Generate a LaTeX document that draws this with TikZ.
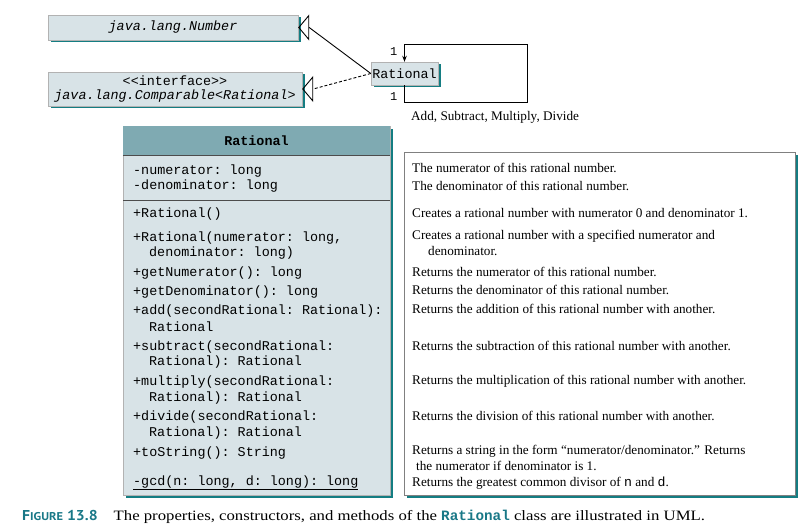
\documentclass[tikz,border=0pt]{standalone}
\usepackage{fontspec}
\setmainfont{Liberation Serif}
\setmonofont{Liberation Mono}
\newfontfamily\capfont[FakeStretch=1.1]{PT Sans}
\newfontfamily\capserif[FakeStretch=1.17]{Liberation Serif}
\usetikzlibrary{arrows.meta,positioning,shadows}
\definecolor{umlhead}{RGB}{127,170,178}
\definecolor{umlbody}{RGB}{216,227,231}
\definecolor{umlshade}{RGB}{20,125,130}
\definecolor{captl}{RGB}{25,120,135}
\newcommand{\mono}{\ttfamily\fontsize{13.4}{15.5}\selectfont}
\newcommand{\serif}{\rmfamily\fontsize{13.2}{15}\selectfont}
\tikzset{
  shadowed/.style={drop shadow={fill=umlshade, opacity=1, shadow xshift=2.5pt, shadow yshift=-2.5pt}},
  umlbox/.style={shadowed, draw=gray!60, line width=0.4pt, fill=umlbody, inner sep=0pt, font=\mono},
  member/.style={anchor=west, inner sep=0pt, font=\mono},
  desc/.style={anchor=west, inner sep=0pt, font=\serif},
  gen/.style={line width=0.9pt, -{Triangle[open, length=11pt, width=26pt]}},
}
\begin{document}
\begin{tikzpicture}[x=1pt, y=-1pt]
        \useasboundingbox (0,0) rectangle (805,532);
        % super class and interface
        \node[umlbox, minimum width=250, minimum height=25] (num) at (173,27.5) {\itshape java.lang.Number};
        \node[umlbox, minimum width=254, minimum height=34, align=center] (cmp) at (175,89) {<<interface>>\\[-2pt]\itshape java.lang.Comparable<Rational>};
        \node[umlbox, minimum width=67, minimum height=23] (rat) at (404.5,73.5) {Rational};
        \draw[gen] (rat.west) -- ([xshift=11pt]num.east) -- (num.east);
        \draw[gen, dash pattern=on 3pt off 2pt] (rat.west) -- ([xshift=11pt]cmp.east) -- (cmp.east);
        % association loop
        \coordinate (lpA) at (527,44);
        \coordinate (lpB) at (527,102);
        \draw[line width=0.9pt, -{Stealth[length=6pt, width=4.5pt]}] (rat.south) |- (lpB) -- (lpA) -| (rat.north);
        \node[member, font=\mono\fontsize{12}{14}\selectfont] (oneT) at (390,52) {1};
        \node[member, font=\mono\fontsize{12}{14}\selectfont] (oneB) at (390,97) {1};
        \node[desc, anchor=west] (ops) at (411,117.5) {Add, Subtract, Multiply, Divide};
        % the class box
        \node[umlbox, minimum width=267, minimum height=369] (cls) at (256.5,310.5) {};
        \fill[umlhead] ([shift={(0.2pt,-0.2pt)}]cls.north west) rectangle ([shift={(-0.2pt,-29pt)}]cls.north east);
        \draw[line width=0.5pt, black!70] ([yshift=-29pt]cls.north west) -- ([yshift=-29pt]cls.north east);
        \node[font=\mono\bfseries] (title) at (256.5,141) {Rational};
        \draw[line width=0.5pt, black!70] (123,200) -- (390,200);
        \foreach \x/\y/\t [count=\i] in {
          133/171/{-numerator: long},
          133/186/{-denominator: long},
          133/214/{+Rational()},
          133/238/{+Rational(numerator: long,},
          149/253/{denominator: long)},
          133/273/{+getNumerator(): long},
          133/292/{+getDenominator(): long},
          133/311/{+add(secondRational: Rational):},
          149/327/{Rational},
          133/347/{+subtract(secondRational:},
          149/362/{Rational): Rational},
          133/382/{+multiply(secondRational:},
          149/398/{Rational): Rational},
          133/417/{+divide(secondRational:},
          149/433/{Rational): Rational},
          133/453/{+toString(): String},
          133/483/{\underline{-gcd(n: long, d: long): long}}}{
        \node[member] (m\i) at (\x,\y) {\t};
        }
        % the notes
        \node[umlbox, fill=white, draw=gray, minimum width=391, minimum height=343] (dsc) at (599.5,323.5) {};
        \foreach \x/\y/\t [count=\i] in {
          412/168/{The numerator of this rational number.},
          412/186/{The denominator of this rational number.},
          412/213/{Creates a rational number with numerator 0 and denominator 1.},
          412/236/{Creates a rational number with a specified numerator and},
          428/251/{denominator.},
          412/272/{Returns the numerator of this rational number.},
          412/290/{Returns the denominator of this rational number.},
          412/309/{Returns the addition of this rational number with another.},
          412/346/{Returns the subtraction of this rational number with another.},
          412/381/{Returns the multiplication of this rational number with another.},
          412/416/{Returns the division of this rational number with another.},
          412/451/{Returns a string in the form ``numerator/denominator.'' Returns},
          416/466/{the numerator if denominator is 1.},
          412/483/{Returns the greatest common divisor of {\ttfamily n} and {\ttfamily d}.}}{
        \node[desc] (d\i) at (\x,\y) {\t};
        }
        % caption
        \node[desc, font=\capserif\fontsize{14.3}{16}\selectfont] (cap) at (22,517) {{\capfont\bfseries\color{captl}F{\fontsize{11.3}{12}\selectfont IGURE} 13.8}\hspace{16pt}The properties, constructors, and methods of the {\ttfamily\bfseries\color{captl}Rational} class are illustrated in UML.};
\end{tikzpicture}
\end{document}
